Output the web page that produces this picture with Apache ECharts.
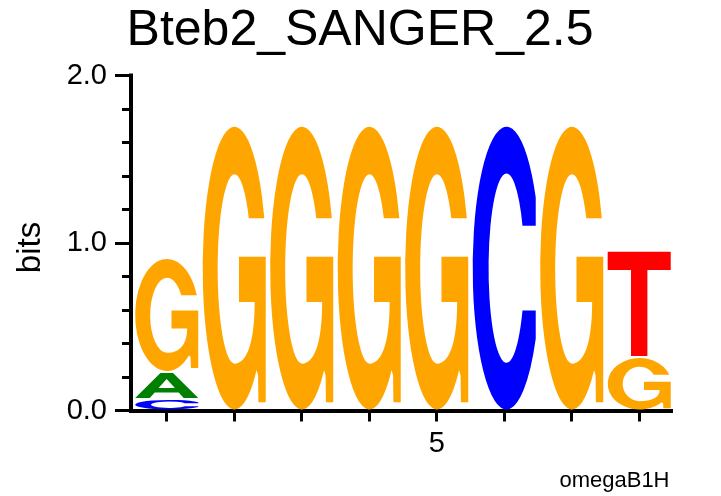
<!DOCTYPE html>
<html><head><meta charset="utf-8">
<script src="https://cdn.jsdelivr.net/npm/echarts@6/dist/echarts.min.js"></script>
<style>html,body{margin:0;padding:0;background:#fff}#c{width:721px;height:496px}</style>
</head><body><div id="c"></div>
<script>
// ---- data ----
const positions = [1, 2, 3, 4, 5, 6, 7, 8];
const letterNames = ['A', 'C', 'G', 'T'];
const bitsA = [0.161, 0, 0, 0, 0, 0, 0, 0];
const bitsC = [0.069, 0, 0, 0, 0, 1.70, 0, 0];
const bitsG = [0.681, 1.70, 1.70, 1.70, 1.70, 0, 1.70, 0.319];
const bitsT = [0, 0, 0, 0, 0, 0, 0, 0.635];
const yTickValues = [0, 1, 2];
const yTickLabels = ['0.0', '1.0', '2.0'];
const xTickLabelValues = [5];
const titleText = 'Bteb2_SANGER_2.5';
const yAxisTitle = 'bits';
const footnote = 'omegaB1H';

// ---- glyph shapes & styles ----
const GLYPHS = [
  'M0,100 L40,0 L60,0 L100,100 L77,100 L69,78 L31,78 L23,100 Z M37,60 L63,60 L50,24 Z',
  'M93.3,25 A50,50 0 1 0 93.3,75 L93.3,65 L73.7,65 A26.5,33.5 0 1 1 73.7,35 L93.3,35 Z',
  'M93,24.5 A50,50 0 1 0 84.7,86 L87,88 L87.5,97.4 L99,97.4 L99,46 L57,46 L57,62 L81.6,62 C81.6,76 70,83.8 50,83.8 A26.5,33.5 0 1 1 72.4,32.4 L96.8,32.4 Z',
  'M0,0 L100,0 L100,17.5 L63,17.5 L63,100 L37,100 L37,17.5 L0,17.5 Z'
];
const COLORS = ['#008000', '#0000FF', '#FFA500', '#FF0000'];
const HALF = 0.467;
const FONT = '"Liberation Sans", Arial, Helvetica, sans-serif';

const allBits = [bitsA, bitsC, bitsG, bitsT];
const stackData = [];
positions.forEach((p, i) => {
  const items = allBits.map((arr, li) => ({ li, h: arr[i] })).filter(d => d.h > 0)
    .sort((a, b) => a.h - b.h);
  let acc = 0;
  items.forEach(d => { stackData.push([p, acc, acc + d.h, d.li]); acc += d.h; });
});

function renderItem(params, api) {
  const pos = api.value(0), y0 = api.value(1), y1 = api.value(2), li = api.value(3);
  const tl = api.coord([pos - HALF, y1]);
  const br = api.coord([pos + HALF, y0]);
  return {
    type: 'path',
    shape: { pathData: GLYPHS[li], x: tl[0], y: tl[1] + 1, width: br[0] - tl[0], height: br[1] - tl[1] - 2, layout: 'cover' },
    style: { fill: COLORS[li], stroke: null }
  };
}

const chart = echarts.init(document.getElementById('c'), null, { renderer: 'canvas' });
chart.setOption({
  animation: false,
  backgroundColor: '#fff',
  grid: { left: 131, right: 50, top: 75.5, bottom: 85.5, containLabel: false },
  xAxis: {
    type: 'value', min: 0.471, max: 8.471, offset: 1.5,
    axisLine: { show: true, lineStyle: { color: '#000', width: 4, cap: 'square' } },
    axisTick: { show: true, customValues: positions, length: 11, lineStyle: { color: '#000', width: 3 } },
    axisLabel: { show: true, customValues: xTickLabelValues, formatter: v => String(v), margin: 17,
      fontSize: 29, fontFamily: FONT, color: '#000' },
    splitLine: { show: false }
  },
  yAxis: {
    type: 'value', min: 0, max: 2, interval: 1,
    axisLine: { show: true, lineStyle: { color: '#000', width: 4, cap: 'square' } },
    axisTick: { show: true, length: 16, lineStyle: { color: '#000', width: 3 } },
    minorTick: { show: true, splitNumber: 5, length: 9, lineStyle: { color: '#000', width: 3 } },
    axisLabel: { formatter: v => yTickLabels[yTickValues.indexOf(Math.round(v))] || '', margin: 24,
      fontSize: 29, fontFamily: FONT, color: '#000' },
    splitLine: { show: false }, minorSplitLine: { show: false }
  },
  series: [{
    type: 'custom', renderItem, clip: false,
    encode: { x: 0, y: [1, 2] },
    data: stackData
  }],
  graphic: [
    { type: 'text', x: 360, y: 31, style: { text: titleText, font: '50px ' + FONT, fill: '#000',
      align: 'center', verticalAlign: 'middle', textAlign: 'center', textVerticalAlign: 'middle' } },
    { type: 'text', x: 30.5, y: 247.5, rotation: Math.PI / 2, style: { text: yAxisTitle, font: '33px ' + FONT, fill: '#000',
      align: 'center', verticalAlign: 'middle', textAlign: 'center', textVerticalAlign: 'middle' } },
    { type: 'text', x: 669.5, y: 480.7, style: { text: footnote, font: '22px ' + FONT, fill: '#000',
      align: 'right', verticalAlign: 'middle', textAlign: 'right', textVerticalAlign: 'middle' } }
  ]
});
</script>
</body></html>
